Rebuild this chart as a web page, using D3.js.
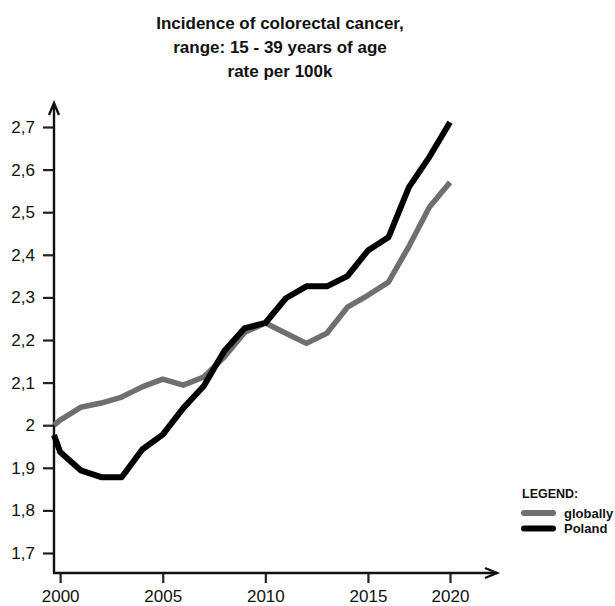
<!DOCTYPE html>
<html>
<head>
<meta charset="utf-8">
<script src="https://cdn.jsdelivr.net/npm/d3@7"></script>
<style>
  html, body { margin: 0; padding: 0; background: #fff; }
  svg { display: block; font-family: "Liberation Sans", Arial, sans-serif; }
</style>
</head>
<body>
<svg id="chart" width="615" height="606"></svg>
<script>
// ---- data ----
const years = [1999.7, 2000, 2001, 2002, 2003, 2004, 2005, 2006, 2007, 2008, 2009,
               2010, 2011, 2012, 2013, 2014, 2015, 2016, 2017, 2018, 2019];
const globally = [2.0, 2.012, 2.042, 2.052, 2.066, 2.09, 2.108, 2.094, 2.113, 2.16, 2.218,
                  2.24, 2.216, 2.192, 2.216, 2.277, 2.305, 2.336, 2.42, 2.512, 2.57];
const poland = [1.977, 1.937, 1.894, 1.878, 1.878, 1.943, 1.978, 2.04, 2.092, 2.174, 2.228,
                2.24, 2.298, 2.326, 2.326, 2.35, 2.41, 2.441, 2.559, 2.63, 2.711];
const xTickYears = [2000, 2005, 2010, 2015, 2019];
const xTickLabels = ["2000", "2005", "2010", "2015", "2020"];
const yTicks = [1.7, 1.8, 1.9, 2.0, 2.1, 2.2, 2.3, 2.4, 2.5, 2.6, 2.7];
const titleLines = ["Incidence of colorectal cancer,", "range: 15 - 39 years of age", "rate per 100k"];
const seriesNames = ["globally", "Poland"];

// ---- layout ----
const svg = d3.select("#chart");
const axisX0 = 54, axisY0 = 573;
const x = d3.scaleLinear().domain([1999.7, 2019]).range([54, 450]);
const y = d3.scaleLinear().domain([1.7, 2.7]).range([553, 127]);
const colors = { globally: "#6f6f6f", Poland: "#000000" };

// title
svg.append("g").selectAll("text").data(titleLines).join("text")
  .attr("x", 280).attr("y", (d, i) => 29 + i * 24)
  .attr("text-anchor", "middle")
  .attr("font-size", 17).attr("font-weight", "bold").attr("fill", "#111")
  .text(d => d);

// y axis ticks
const yAxis = svg.append("g").attr("transform", `translate(${axisX0},0)`)
  .call(d3.axisLeft(y).tickValues(yTicks).tickSize(11).tickPadding(8)
    .tickFormat(d => String(+d.toFixed(1)).replace(".", ",")));
yAxis.select(".domain").remove();
yAxis.selectAll(".tick line").attr("stroke", "#222").attr("stroke-width", 2.2);
yAxis.selectAll(".tick text").attr("font-size", 17).attr("fill", "#111")
  .attr("font-family", "'Liberation Sans', Arial, sans-serif");

// x axis ticks
const xAxis = svg.append("g").attr("transform", `translate(0,${axisY0})`)
  .call(d3.axisBottom(x).tickValues(xTickYears).tickSize(10).tickPadding(7)
    .tickFormat((d, i) => xTickLabels[i]));
xAxis.select(".domain").remove();
xAxis.selectAll(".tick line").attr("stroke", "#222").attr("stroke-width", 2.2);
xAxis.selectAll(".tick text").attr("font-size", 17).attr("fill", "#111")
  .attr("font-family", "'Liberation Sans', Arial, sans-serif");

// axis lines with open arrows
const axes = svg.append("g").attr("stroke", "#111").attr("stroke-width", 2.4).attr("fill", "none");
axes.append("line").attr("x1", axisX0).attr("y1", axisY0 + 1).attr("x2", axisX0).attr("y2", 103);
axes.append("path").attr("d", `M${axisX0 - 5},${115} L${axisX0},${103} L${axisX0 + 5},${115}`)
  .attr("stroke-linejoin", "miter");
axes.append("line").attr("x1", axisX0 - 1).attr("y1", axisY0).attr("x2", 497).attr("y2", axisY0);
axes.append("path").attr("d", `M${485},${axisY0 - 5} L${497},${axisY0} L${485},${axisY0 + 5}`);

// lines
const line = d3.line().x(d => x(d[0])).y(d => y(d[1]));
const series = [
  { name: "globally", values: years.map((yr, i) => [yr, globally[i]]), width: 5.5 },
  { name: "Poland", values: years.map((yr, i) => [yr, poland[i]]), width: 6 }
];
svg.append("g").selectAll("path").data(series).join("path")
  .attr("d", d => line(d.values))
  .attr("fill", "none")
  .attr("stroke", d => colors[d.name])
  .attr("stroke-width", d => d.width)
  .attr("stroke-linejoin", "round");

// legend
const lg = svg.append("g");
lg.append("text").attr("x", 522).attr("y", 498)
  .attr("font-size", 12.5).attr("font-weight", "bold").attr("fill", "#111").text("LEGEND:");
const items = lg.selectAll("g.item").data(seriesNames).join("g").attr("class", "item")
  .attr("transform", (d, i) => `translate(0,${513 + i * 15.5})`);
items.append("line").attr("x1", 524).attr("x2", 553).attr("y1", 0).attr("y2", 0)
  .attr("stroke", d => colors[d]).attr("stroke-width", 6).attr("stroke-linecap", "round");
items.append("text").attr("x", 564).attr("y", 4.5)
  .attr("font-size", 13).attr("font-weight", "bold").attr("fill", "#111").text(d => d);
</script>
</body>
</html>
